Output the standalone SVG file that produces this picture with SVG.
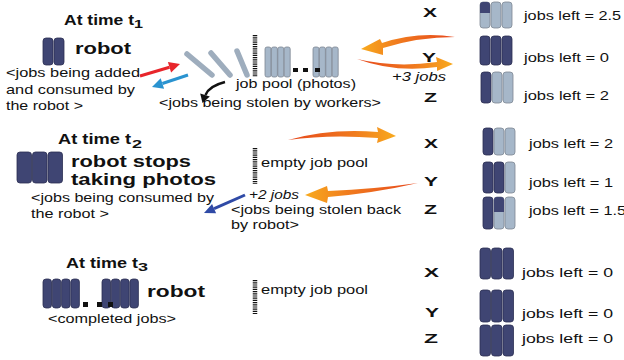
<svg xmlns="http://www.w3.org/2000/svg" width="624" height="360" viewBox="0 0 624 360">
  <style>
    text { font-family: "Liberation Sans", Arial, sans-serif; fill: #111; }
    .h { font-size: 14px; font-weight: bold; }
    .sub { font-size: 11px; font-weight: bold; }
    .big { font-size: 16px; font-weight: bold; }
    .t { font-size: 13px; }
    .it { font-size: 13px; font-style: italic; }
    .w { font-size: 13px; font-weight: bold; }
    .dk { fill: #3f4573; stroke: #2b2f52; stroke-width: 0.8; }
    .dkf { fill: #3f4573; }
    .lt { fill: #a6b7c9; stroke: #7d8793; stroke-width: 0.8; }
    .tilt { stroke: #9eadbd; stroke-width: 5.5; stroke-linecap: round; fill: none; }
    .ruler { stroke: #111; stroke-width: 4.5; stroke-dasharray: 1.2 1; fill: none; }
    .dot { fill: #111; }
  </style>
  <defs>
    <linearGradient id="orR" x1="0" y1="0" x2="1" y2="0">
      <stop offset="0" stop-color="#e6461c"/>
      <stop offset="0.6" stop-color="#f07a1e"/>
      <stop offset="1" stop-color="#f8aa1e"/>
    </linearGradient>
    <linearGradient id="orL" x1="1" y1="0" x2="0" y2="0">
      <stop offset="0" stop-color="#e6461c"/>
      <stop offset="0.6" stop-color="#f07a1e"/>
      <stop offset="1" stop-color="#f8aa1e"/>
    </linearGradient>
  </defs>

  <!-- ===== time t1 ===== -->
  <g id="t1-title">
    <text class="h" x="64" y="25" textLength="70" lengthAdjust="spacingAndGlyphs">At time t</text>
    <text class="sub" x="134" y="28" textLength="9" lengthAdjust="spacingAndGlyphs">1</text>
  </g>
  <g id="t1-robot">
    <rect class="dk" x="43" y="38" width="10" height="27" rx="3"/>
    <rect class="dk" x="54" y="38" width="10" height="27" rx="3"/>
    <text class="big" x="75" y="54" textLength="56" lengthAdjust="spacingAndGlyphs">robot</text>
    <text class="t" x="6" y="77" textLength="134" lengthAdjust="spacingAndGlyphs">&lt;jobs being added</text>
    <text class="t" x="6" y="94" textLength="129" lengthAdjust="spacingAndGlyphs">and consumed by</text>
    <text class="t" x="6" y="110" textLength="77" lengthAdjust="spacingAndGlyphs">the robot &gt;</text>
  </g>
  <g id="t1-pool">
    <line class="tilt" x1="187" y1="54" x2="212" y2="75"/>
    <line class="tilt" x1="211" y1="53" x2="230" y2="75"/>
    <line class="tilt" x1="237" y1="51" x2="247" y2="75"/>
    <line class="ruler" x1="255" y1="35" x2="255" y2="77"/>
    <rect class="lt" x="265" y="47" width="6" height="30" rx="2"/>
    <rect class="lt" x="271.4" y="47" width="6" height="30" rx="2"/>
    <rect class="lt" x="277.8" y="47" width="6" height="30" rx="2"/>
    <rect class="lt" x="284.2" y="47" width="6" height="30" rx="2"/>
    <rect class="lt" x="313" y="47" width="6" height="30" rx="2"/>
    <rect class="lt" x="319.4" y="47" width="6" height="30" rx="2"/>
    <rect class="lt" x="325.8" y="47" width="6" height="30" rx="2"/>
    <rect class="lt" x="332.2" y="47" width="6" height="30" rx="2"/>
    <rect class="dot" x="293" y="68" width="5" height="4"/>
    <rect class="dot" x="303" y="68" width="5" height="4"/>
    <rect class="dot" x="315" y="68" width="5" height="4"/>
    <text class="t" x="236" y="88" textLength="120" lengthAdjust="spacingAndGlyphs">job pool (photos)</text>
    <text class="t" x="159" y="107" textLength="222" lengthAdjust="spacingAndGlyphs">&lt;jobs being stolen by workers&gt;</text>
  </g>
  <g id="t1-worker-x">
    <text class="w" x="423" y="17" textLength="14" lengthAdjust="spacingAndGlyphs">X</text>
    <rect class="lt" x="480" y="2" width="10" height="26" rx="3"/>
    <path class="dkf" d="M480,13 V5 A3,3 0 0 1 483,2 H487 A3,3 0 0 1 490,5 V13 Z"/>
    <rect class="lt" x="491" y="2" width="10" height="26" rx="3"/>
    <rect class="lt" x="502" y="2" width="10" height="26" rx="3"/>
    <text class="t" x="524" y="20" textLength="97" lengthAdjust="spacingAndGlyphs">jobs left = 2.5</text>
  </g>
  <g id="t1-worker-y">
    <text class="w" x="422" y="62" textLength="14" lengthAdjust="spacingAndGlyphs">Y</text>
    <rect class="dk" x="480" y="36" width="10" height="29" rx="3"/>
    <rect class="dk" x="491" y="36" width="10" height="29" rx="3"/>
    <rect class="dk" x="502" y="36" width="10" height="29" rx="3"/>
    <text class="t" x="524" y="62" textLength="85" lengthAdjust="spacingAndGlyphs">jobs left = 0</text>
  </g>
  <g id="t1-worker-z">
    <text class="w" x="424" y="102" textLength="13" lengthAdjust="spacingAndGlyphs">Z</text>
    <rect class="dk" x="481" y="72" width="10" height="31" rx="3"/>
    <rect class="lt" x="492" y="72" width="10" height="31" rx="3"/>
    <rect class="lt" x="503" y="72" width="10" height="31" rx="3"/>
    <text class="t" x="524" y="100" textLength="85" lengthAdjust="spacingAndGlyphs">jobs left = 2</text>
  </g>

  <!-- ===== time t2 ===== -->
  <g id="t2-title">
    <text class="h" x="58" y="144" textLength="73" lengthAdjust="spacingAndGlyphs">At time t</text>
    <text class="sub" x="132" y="148" textLength="10" lengthAdjust="spacingAndGlyphs">2</text>
  </g>
  <g id="t2-robot">
    <rect class="dk" x="17" y="152" width="14.5" height="31" rx="3"/>
    <rect class="dk" x="32.5" y="152" width="14.5" height="31" rx="3"/>
    <rect class="dk" x="48" y="152" width="14.5" height="31" rx="3"/>
    <text class="big" x="71" y="167" textLength="120" lengthAdjust="spacingAndGlyphs">robot stops</text>
    <text class="big" x="71" y="185" textLength="145" lengthAdjust="spacingAndGlyphs">taking photos</text>
    <text class="t" x="31" y="202" textLength="183" lengthAdjust="spacingAndGlyphs">&lt;jobs being consumed by</text>
    <text class="t" x="31" y="218" textLength="78" lengthAdjust="spacingAndGlyphs">the robot &gt;</text>
  </g>
  <g id="t2-pool">
    <line class="ruler" x1="255" y1="148" x2="255" y2="184"/>
    <text class="t" x="261" y="167" textLength="107" lengthAdjust="spacingAndGlyphs">empty job pool</text>
    <text class="t" x="231" y="214" textLength="170" lengthAdjust="spacingAndGlyphs">&lt;jobs being stolen back</text>
    <text class="t" x="231" y="229" textLength="68" lengthAdjust="spacingAndGlyphs">by robot&gt;</text>
  </g>
  <g id="t2-worker-x">
    <text class="w" x="424" y="148" textLength="14" lengthAdjust="spacingAndGlyphs">X</text>
    <rect class="dk" x="483" y="128" width="10" height="27" rx="3"/>
    <rect class="lt" x="494" y="128" width="10" height="27" rx="3"/>
    <rect class="lt" x="505" y="128" width="10" height="27" rx="3"/>
    <text class="t" x="529" y="148" textLength="84" lengthAdjust="spacingAndGlyphs">jobs left = 2</text>
  </g>
  <g id="t2-worker-y">
    <text class="w" x="424" y="186" textLength="14" lengthAdjust="spacingAndGlyphs">Y</text>
    <rect class="dk" x="483" y="162" width="10" height="31" rx="3"/>
    <rect class="dk" x="494" y="162" width="10" height="31" rx="3"/>
    <rect class="lt" x="505" y="162" width="10" height="31" rx="3"/>
    <text class="t" x="529" y="187" textLength="84" lengthAdjust="spacingAndGlyphs">jobs left = 1</text>
  </g>
  <g id="t2-worker-z">
    <text class="w" x="424" y="214" textLength="13" lengthAdjust="spacingAndGlyphs">Z</text>
    <rect class="dk" x="483" y="197" width="10" height="32" rx="3"/>
    <rect class="lt" x="494" y="197" width="10" height="32" rx="3"/>
    <path class="dkf" d="M494,212 V200 A3,3 0 0 1 497,197 H501 A3,3 0 0 1 504,200 V212 Z"/>
    <rect class="lt" x="505" y="197" width="10" height="32" rx="3"/>
    <text class="t" x="529" y="215" textLength="97" lengthAdjust="spacingAndGlyphs">jobs left = 1.5</text>
  </g>

  <!-- ===== time t3 ===== -->
  <g id="t3-title">
    <text class="h" x="66" y="268" textLength="72" lengthAdjust="spacingAndGlyphs">At time t</text>
    <text class="sub" x="138" y="271" textLength="10" lengthAdjust="spacingAndGlyphs">3</text>
  </g>
  <g id="t3-robot">
    <rect class="dk" x="43" y="279" width="8.5" height="29" rx="3"/>
    <rect class="dk" x="52.3" y="279" width="8.5" height="29" rx="3"/>
    <rect class="dk" x="61.6" y="279" width="8.5" height="29" rx="3"/>
    <rect class="dk" x="70.9" y="279" width="8.5" height="29" rx="3"/>
    <rect class="dk" x="102" y="279" width="8.5" height="29" rx="3"/>
    <rect class="dk" x="111.3" y="279" width="8.5" height="29" rx="3"/>
    <rect class="dk" x="120.6" y="279" width="8.5" height="29" rx="3"/>
    <rect class="dk" x="129.9" y="279" width="8.5" height="29" rx="3"/>
    <rect class="dot" x="83" y="302" width="5" height="5"/>
    <rect class="dot" x="97" y="302" width="5" height="5"/>
    <rect class="dot" x="108" y="302" width="5" height="5"/>
    <text class="big" x="147" y="297" textLength="58" lengthAdjust="spacingAndGlyphs">robot</text>
    <text class="t" x="48" y="323" textLength="128" lengthAdjust="spacingAndGlyphs">&lt;completed jobs&gt;</text>
  </g>
  <g id="t3-pool">
    <line class="ruler" x1="255" y1="280" x2="255" y2="314"/>
    <text class="t" x="261" y="294" textLength="107" lengthAdjust="spacingAndGlyphs">empty job pool</text>
  </g>
  <g id="t3-worker-x">
    <text class="w" x="424" y="277" textLength="15" lengthAdjust="spacingAndGlyphs">X</text>
    <rect class="dk" x="480" y="248" width="10.5" height="31" rx="3"/>
    <rect class="dk" x="491.5" y="248" width="10.5" height="31" rx="3"/>
    <rect class="dk" x="503" y="248" width="10.5" height="31" rx="3"/>
    <text class="t" x="522" y="277" textLength="91" lengthAdjust="spacingAndGlyphs">jobs left = 0</text>
  </g>
  <g id="t3-worker-y">
    <text class="w" x="425" y="317" textLength="14" lengthAdjust="spacingAndGlyphs">Y</text>
    <rect class="dk" x="480" y="290" width="10.5" height="32" rx="3"/>
    <rect class="dk" x="491.5" y="290" width="10.5" height="32" rx="3"/>
    <rect class="dk" x="503" y="290" width="10.5" height="32" rx="3"/>
    <text class="t" x="522" y="318" textLength="91" lengthAdjust="spacingAndGlyphs">jobs left = 0</text>
  </g>
  <g id="t3-worker-z">
    <text class="w" x="424" y="343" textLength="14" lengthAdjust="spacingAndGlyphs">Z</text>
    <rect class="dk" x="480" y="325" width="10.5" height="31" rx="3"/>
    <rect class="dk" x="491.5" y="325" width="10.5" height="31" rx="3"/>
    <rect class="dk" x="503" y="325" width="10.5" height="31" rx="3"/>
    <text class="t" x="522" y="343" textLength="91" lengthAdjust="spacingAndGlyphs">jobs left = 0</text>
  </g>

  <!-- ===== connectors ===== -->
  <g id="connectors">
    <!-- t1: robot adds jobs to the pool (red) and takes them back (blue) -->
    <line x1="140" y1="76" x2="169.5" y2="67.2" stroke="#e8252b" stroke-width="3"/>
    <polygon points="180,64 171.1,72.5 167.9,61.9" fill="#e8252b"/>
    <line x1="188" y1="75" x2="162.4" y2="83.5" stroke="#2a93d0" stroke-width="3"/>
    <polygon points="152,87 164.1,88.7 160.7,78.3" fill="#2a93d0"/>
    <!-- t1: workers stealing from the pool -->
    <path d="M225,82 Q209,86 205.5,95" stroke="#111" stroke-width="2.5" fill="none"/>
    <polygon points="202.5,103 209.8,96.5 200.2,93.5" fill="#111"/>
    <!-- t1: Y steals from X and hands jobs on -->
    <path d="M455,37 Q418,31 382,43 L380,39 L361,49 L383,55 L383,48 Q418,37 455,37 Z" fill="url(#orL)"/>
    <path d="M357,59 Q395,68 437,62 L436,57 L453,64 L437,71 L437,67 Q395,73 357,59 Z" fill="url(#orR)"/>
    <text class="it" x="392" y="81" textLength="54" lengthAdjust="spacingAndGlyphs">+3 jobs</text>
    <!-- t2 -->
    <path d="M288,140 Q330,128 378,132 L377,127 L396,136 L377,143 L378,138 Q330,134 288,140 Z" fill="url(#orR)"/>
    <path d="M418,183 Q375,189 328,191 L327,186 L305,195 L327,203 L328,197 Q375,193 418,183 Z" fill="url(#orL)"/>
    <line x1="245" y1="195" x2="214.1" y2="208.6" stroke="#2f4aa6" stroke-width="3"/>
    <polygon points="204,213 216.1,213.2 212.1,204" fill="#2f4aa6"/>
    <text class="it" x="249" y="199" textLength="50" lengthAdjust="spacingAndGlyphs">+2 jobs</text>
  </g>
</svg>
